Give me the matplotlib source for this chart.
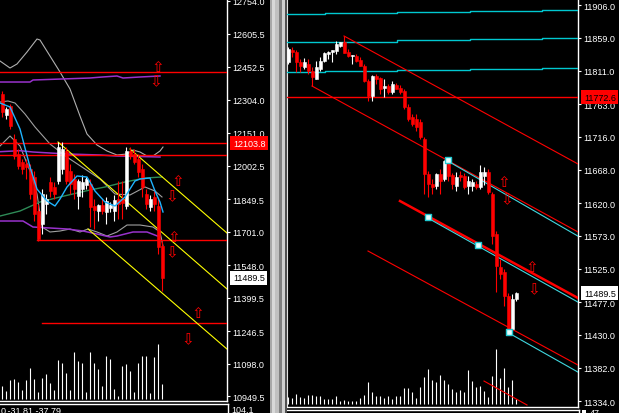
import numpy as np
import matplotlib
matplotlib.use('Agg')
import matplotlib.pyplot as plt
from matplotlib.patches import Rectangle
from matplotlib.transforms import blended_transform_factory, offset_copy

# ── Left pane: 41 bars ───────────────────────────────────────────
left_open = [12329.1, 12233.2, 12274.3, 12123.6, 12055.1, 12018.5, 12009.4, 11986.5, 11950.0, 11794.7,
             11735.3, 11826.7, 11927.1, 11904.3, 11931.7, 11986.5, 12068.8, 11977.4, 11940.9, 11863.2,
             11895.2, 11913.4, 11918.0, 11817.6, 11794.7, 11822.1, 11790.2, 11808.4, 11794.7, 11849.5,
             11849.5, 11817.6, 12068.8, 12055.1, 12031.2, 11986.5, 11872.3, 11813.0, 11858.7, 11817.6,
             11634.8]
left_high = [12342.8, 12269.8, 12283.5, 12146.4, 12077.9, 12031.2, 12031.2, 12009.4, 11977.4, 11826.7,
             11895.2, 11872.3, 11950.0, 11927.1, 12109.9, 12109.9, 12087.0, 12009.4, 11963.7, 11940.9,
             11959.1, 11950.0, 11940.9, 11849.5, 11826.7, 11849.5, 11858.7, 11835.8, 11867.8, 11931.7,
             11931.7, 12087.0, 12087.0, 12077.9, 12055.1, 12009.4, 11895.2, 11867.8, 11886.0, 11849.5,
             11657.7]
left_low = [12224.1, 12215.0, 12169.3, 12031.2, 11986.5, 11963.7, 11940.9, 11849.5, 11749.0, 11657.7,
            11689.6, 11781.0, 11858.7, 11849.5, 11918.0, 11963.7, 11918.0, 11872.3, 11849.5, 11803.9,
            11858.7, 11895.2, 11721.6, 11712.5, 11749.0, 11781.0, 11735.3, 11790.2, 11749.0, 11758.1,
            11758.1, 11803.9, 12031.2, 12009.4, 11950.0, 11858.7, 11803.9, 11794.7, 11794.7, 11598.4,
            11429.2]
left_close = [12246.9, 12260.6, 12183.0, 12046.0, 12000.2, 11986.5, 11995.7, 11872.3, 11781.0, 11666.8,
              11872.3, 11849.5, 11886.0, 11872.3, 12087.0, 12077.9, 11931.7, 11918.0, 11895.2, 11931.7,
              11927.1, 11940.9, 11813.0, 11799.3, 11822.1, 11794.7, 11840.4, 11822.1, 11845.0, 11826.7,
              11831.2, 12068.8, 12046.0, 12018.5, 11972.8, 11904.3, 11826.7, 11849.5, 11826.7, 11630.2,
              11489.5]
left_volume = [133, 83, 190, 200, 173, 90, 190, 310, 200, 73, 210, 250, 160, 93, 390, 357, 260, 93,
               467, 377, 357, 67, 467, 360, 300, 133, 433, 400, 100, 33, 333, 350, 277, 67, 360, 433,
               433, 57, 423, 550, 150]

# indicator curves, sampled at bar positions (bar index, price)
gray_env_x = [-0.5, 2, 3.75, 6.25, 8.75, 9.5, 12, 14.5, 17, 19.5, 21.25, 23.75, 26.25, 28.75,
              31.25, 32.75, 34.5, 36.25, 37.75, 39.5, 40.25]
gray_env_y = [12479.9, 12447.9, 12466.2, 12521.0, 12580.4, 12575.8, 12502.7, 12429.6, 12352.0,
              12228.6, 12146.4, 12096.2, 12068.8, 12050.5, 12055.1, 12073.3, 12064.2, 12046.0,
              12046.0, 12068.8, 12087.0]
gray_up_x = [-0.5, 1.5, 3.25, 5.75, 8.25, 12, 16.25, 20.75, 24.5, 28.25, 32, 35.75, 38.25, 40]
gray_up_y = [12292.6, 12297.2, 12288.0, 12237.8, 12178.4, 12100.7, 12040.8, 11986.5, 11940.9,
             11872.3, 11867.8, 11904.3, 11886.0, 11858.7]
gray_lo_x = [-0.5, 2, 4.5, 7, 8.75, 10, 12, 14.5, 17, 19.5, 21.5, 23.75, 26.25, 28.75, 31.25,
             34.5, 37.75, 39.5, 40.25]
gray_lo_y = [12091.6, 12137.3, 12091.6, 11977.4, 11872.3, 11721.6, 11698.8, 11703.3, 11712.5,
             11698.8, 11712.5, 11698.8, 11680.5, 11698.8, 11730.7, 11730.7, 11721.6, 11698.8, 11634.8]
fast_ma_x = [-0.5, 2, 4.5, 7, 8.75, 11.25, 13.25, 14.5, 16.25, 18.75, 21.25, 23.25, 25.75, 28.25,
             30.75, 33.25, 34.5, 37, 38.25, 39.5, 40.25]
fast_ma_y = [12288.0, 12269.8, 12169.3, 11995.7, 11894.7, 11840.4, 11817.6, 11849.5, 11904.3,
             11954.6, 11950.0, 11886.0, 11835.8, 11817.6, 11858.7, 11931.7, 11940.9, 11945.4,
             11886.0, 11835.8, 11790.2]
slow_ma_x = [-0.5, 4.5, 9.5, 14.5, 22, 25.75, 30.75, 35.75, 40]
slow_ma_y = [11771.8, 11794.7, 11835.8, 11858.7, 11890.6, 11904.3, 11927.1, 11945.4, 11950.0]
purple_hi_x = [-0.5, 7, 7.75, 22, 24.5, 28.75, 30.25, 34.5, 39.5]
purple_hi_y = [12383.9, 12383.9, 12393.1, 12402.2, 12406.0, 12411.4, 12402.2, 12406.8, 12411.4]
purple_mid_x = [-0.5, 4.5, 7.75, 16.25, 24.5, 28.75, 39.5]
purple_mid_y = [12065.6, 12070.2, 12064.2, 12055.1, 12050.5, 12046.0, 12041.4]
purple_lo_x = [-0.5, 5.25, 7.75, 16.25, 20.25, 23.75, 27, 28.75, 32.75, 36.25, 39.5]
purple_lo_y = [11749.0, 11749.0, 11721.6, 11712.5, 11703.3, 11689.6, 11675.9, 11680.5, 11698.8,
               11698.8, 11675.9]

# horizontal levels (start bar, price)
left_levels = [(-0.5, 12430.0), (-0.5, 12103.8), (-0.5, 12050.5), (8.75, 11664.5), (10, 11282.0)]
# yellow channel lines (start bar, start price, end bar, end price)
left_channel = [(14, 12109.9, 56.25, 11438.4), (32, 12077.9, 56.25, 11694.0),
                (21.5, 11712.5, 56.25, 11164.0)]
left_arrows_up = [(39, 12455.0), (44, 11936.3), (43, 11678.0), (49, 11333.3)]
left_arrows_dn = [(38.5, 12390.0), (42.5, 11863.2), (42.5, 11609.0), (46.5, 11210.0)]
left_ticks = [12754.0, 12605.5, 12452.5, 12304.0, 12151.0, 12002.5, 11849.5, 11701.0, 11548.0,
              11399.5, 11246.5, 11098.0, 10949.5]

# ── Right pane: 58 bars ──────────────────────────────────────────
right_open = [11823.7, 11841.0, 11838.1, 11823.7, 11816.5, 11820.8, 11810.7, 11799.1, 11813.6, 11825.1,
              11835.3, 11838.1, 11839.6, 11846.8, 11852.6, 11838.1, 11832.4, 11832.4, 11826.6, 11817.9,
              11796.3, 11774.6, 11803.5, 11800.6, 11786.1, 11789.0, 11780.4, 11790.5, 11786.1, 11781.8,
              11758.7, 11744.3, 11741.4, 11737.0, 11712.5, 11661.9, 11647.5, 11644.6, 11661.9, 11654.7,
              11680.7, 11660.5, 11644.6, 11660.5, 11659.0, 11644.6, 11644.6, 11647.5, 11643.2, 11659.0,
              11664.8, 11633.0, 11575.3, 11527.6, 11520.4, 11485.7, 11438.0, 11481.4]
right_high = [11845.4, 11845.4, 11841.0, 11828.0, 11829.5, 11828.0, 11816.5, 11825.1, 11830.9, 11838.1,
              11839.6, 11841.0, 11854.0, 11852.6, 11861.3, 11842.5, 11833.8, 11835.3, 11830.9, 11820.8,
              11799.1, 11805.0, 11806.4, 11802.0, 11799.1, 11791.9, 11796.3, 11793.4, 11790.5, 11784.7,
              11763.0, 11748.6, 11748.6, 11741.4, 11715.4, 11666.2, 11654.7, 11663.4, 11669.1, 11682.1,
              11682.1, 11663.4, 11664.8, 11666.2, 11663.4, 11659.0, 11654.7, 11651.8, 11674.9, 11672.0,
              11669.1, 11635.9, 11579.6, 11539.2, 11524.7, 11490.0, 11488.6, 11491.5]
right_low = [11820.8, 11830.9, 11809.3, 11809.3, 11813.6, 11806.4, 11789.0, 11799.1, 11810.7, 11823.7,
             11828.0, 11823.7, 11835.3, 11845.4, 11836.7, 11830.9, 11820.8, 11823.7, 11817.9, 11794.8,
             11767.4, 11767.4, 11791.9, 11777.5, 11773.1, 11777.5, 11777.5, 11784.7, 11777.5, 11755.8,
             11738.5, 11731.3, 11724.0, 11712.5, 11633.0, 11628.7, 11633.0, 11640.3, 11633.0, 11651.8,
             11651.8, 11640.3, 11637.4, 11651.8, 11640.3, 11633.0, 11637.4, 11640.3, 11640.3, 11646.0,
             11633.0, 11560.8, 11491.5, 11510.3, 11471.3, 11435.2, 11435.2, 11478.5]
right_close = [11842.5, 11838.1, 11823.7, 11817.9, 11823.7, 11810.7, 11802.0, 11816.5, 11825.1, 11836.7,
               11838.1, 11841.0, 11849.7, 11852.6, 11836.7, 11832.4, 11833.8, 11825.1, 11817.9, 11796.3,
               11774.6, 11803.5, 11799.1, 11784.7, 11789.0, 11780.4, 11791.9, 11784.7, 11780.4, 11758.7,
               11741.4, 11734.2, 11729.8, 11715.4, 11661.9, 11647.5, 11643.2, 11661.9, 11651.8, 11680.7,
               11659.0, 11647.5, 11657.6, 11657.6, 11643.2, 11651.8, 11650.4, 11643.2, 11664.8, 11664.8,
               11635.9, 11572.4, 11529.0, 11517.5, 11485.7, 11438.0, 11481.4, 11489.5]
right_volume = [67, 60, 100, 67, 60, 93, 93, 83, 83, 50, 50, 50, 83, 27, 40, 33, 27, 33, 60, 93,
                223, 123, 83, 83, 60, 83, 50, 83, 83, 160, 160, 117, 57, 173, 267, 350, 240, 223, 293,
                240, 200, 150, 123, 140, 123, 340, 233, 167, 183, 133, 73, 283, 550, 260, 360, 167,
                240, 50]

# stepped pivot-style levels
step_x = [-0.25, 9.25, 27.25, 45.5, 63.5, 72.5]
pivot_r2 = [11893.5, 11894.5, 11896.4, 11897.8, 11899.2]
pivot_r1 = [11852.2, 11853.0, 11855.0, 11856.5, 11857.9]
pivot_p = [11809.3, 11810.3, 11811.7, 11813.2, 11814.6]
right_level = 11772.6
# red regression-channel lines (start bar, start price, end bar, end price, thick?)
right_channel = [(14, 11861.3, 72.5, 11676.4, False), (6, 11789.0, 72.5, 11578.2, False),
                 (28, 11622.9, 72.5, 11482.8, True), (20, 11550.7, 72.5, 11386.0, False),
                 (49, 11362.9, 59.75, 11328.3, False)]
# cyan trend lines anchored on swing points
right_trend = [(40, 11682.1, 72.5, 11573.8), (35, 11599.8, 72.5, 11478.5),
               (55.25, 11433.7, 72.5, 11377.4)]
anchor_x = [40, 35, 47.5, 55.25]
anchor_y = [11682.1, 11599.8, 11559.4, 11433.7]
right_arrows_up = [(54, 11651.5), (61, 11528.5)]
right_arrows_dn = [(54.75, 11626.0), (61.5, 11496.0)]
right_ticks = [11906.0, 11859.0, 11811.0, 11763.0, 11716.0, 11668.0, 11620.0, 11573.0, 11525.0,
               11477.0, 11430.0, 11382.0, 11334.0]

FW, FH = 619, 414
LABEL_FONT = 'Liberation Sans'
FS = 6.5


def px_rect(x0, y0, x1, y1):
    # pixel box (origin top-left) -> figure fraction rect
    return [x0 / FW, 1 - y1 / FH, (x1 - x0) / FW, (y1 - y0) / FH]


def draw_candles(ax, o, h, l, c):
    o, h, l, c = map(np.asarray, (o, h, l, c))
    idx = np.arange(len(o))
    col = np.where(c >= o, 'white', '#ff0000')
    ax.vlines(idx, l, h, colors=col, lw=0.8, zorder=5)
    ax.bar(idx, c - o, bottom=o, width=0.75, color=col, edgecolor=col, lw=0.4, zorder=6)


def make_pane(rect, xlim, ylim, volume, vol_lim, ticks):
    ax_v = fig.add_axes(rect)
    ax_v.set_xlim(xlim)
    ax_v.set_ylim(vol_lim)
    ax_v.vlines(np.arange(len(volume)), 0, volume, colors='white', lw=0.8)
    ax_v.axis('off')

    ax = fig.add_axes(rect)
    ax.set_facecolor('none')
    ax.set_xlim(xlim)
    ax.set_ylim(ylim)
    ax.set_xticks([])
    ax.yaxis.tick_right()
    ax.set_yticks(ticks)
    ax.set_yticklabels([f'{t:.1f}' for t in ticks], fontfamily=LABEL_FONT)
    ax.tick_params(axis='y', colors='white', length=2.5, width=0.8, pad=1.5, labelsize=FS)
    for side in ('top', 'left'):
        ax.spines[side].set_visible(False)
    for side in ('right', 'bottom'):
        ax.spines[side].set_color('white')
        ax.spines[side].set_linewidth(1.0)
    return ax


def price_tag(ax, price, text, fc, tc):
    trans = blended_transform_factory(ax.transAxes, ax.transData)
    trans = offset_copy(trans, fig=fig, x=4.2, y=0, units='points')
    ax.text(1.0, price, text, transform=trans, ha='left', va='center', color=tc,
            fontsize=FS, fontfamily=LABEL_FONT, clip_on=False, zorder=20,
            bbox=dict(boxstyle='square,pad=0.28', fc=fc, ec='none'))


def arrows(ax, ups, downs):
    for x, y in ups:
        ax.text(x, y, '\u21e7', color='#ff0000', fontsize=11, ha='center', va='center',
                family='DejaVu Sans', zorder=8)
    for x, y in downs:
        ax.text(x, y, '\u21e9', color='#ff0000', fontsize=11, ha='center', va='center',
                family='DejaVu Sans', zorder=8)


fig = plt.figure(figsize=(FW / 100, FH / 100), dpi=100, facecolor='black')

# ── left pane ────────────────────────────────────────────────────
axl = make_pane(px_rect(0, 0, 227, 402), (-0.5, 56.25), (10926.8, 12763.1),
                left_volume, (-20, 4000), left_ticks)
lw = 0.8
axl.plot(gray_env_x, gray_env_y, color='#b0b0b0', lw=lw, zorder=3)
axl.plot(gray_up_x, gray_up_y, color='#a0a0a0', lw=lw, zorder=3)
axl.plot(gray_lo_x, gray_lo_y, color='#a0a0a0', lw=lw, zorder=3)
axl.plot(purple_hi_x, purple_hi_y, color='#9932cc', lw=1.1, zorder=3)
axl.plot(purple_mid_x, purple_mid_y, color='#9932cc', lw=1.1, zorder=3)
axl.plot(purple_lo_x, purple_lo_y, color='#9932cc', lw=1.1, zorder=3)
axl.plot(slow_ma_x, slow_ma_y, color='#2e8b57', lw=1.0, zorder=3)
axl.plot(fast_ma_x, fast_ma_y, color='#1fb4ff', lw=1.0, zorder=7)
for x0, p in left_levels:
    axl.plot([x0, 56.25], [p, p], color='#ff0000', lw=1.0, zorder=4)
for x0, p0, x1, p1 in left_channel:
    axl.plot([x0, x1], [p0, p1], color='#ffff00', lw=0.8, zorder=4)
draw_candles(axl, left_open, left_high, left_low, left_close)
arrows(axl, left_arrows_up, left_arrows_dn)
price_tag(axl, 12103.8, '12103.8', '#ff0000', 'white')
price_tag(axl, left_close[-1], f'{left_close[-1]:.1f}', 'white', 'black')

# ── right pane ───────────────────────────────────────────────────
axr = make_pane(px_rect(287, 0, 578, 408), (-0.25, 72.5), (11325.4, 11914.7),
                right_volume, (-30, 4050), right_ticks)
axr.spines['left'].set_visible(True)
axr.spines['left'].set_color('#e0e0e0')
for lvl in (pivot_r2, pivot_r1, pivot_p):
    axr.step(step_x, lvl + [lvl[-1]], where='post', color='#00c8d0', lw=1.0, zorder=3)
axr.axhline(right_level, color='#ff0000', lw=1.0, zorder=3)
for x0, p0, x1, p1, thick in right_channel:
    axr.plot([x0, x1], [p0, p1], color='#ff0000', lw=1.8 if thick else 0.8, zorder=4)
for x0, p0, x1, p1 in right_trend:
    axr.plot([x0, x1], [p0 - 1.6, p1 - 1.6], color='#40d8e0', lw=0.8, zorder=4)
draw_candles(axr, right_open, right_high, right_low, right_close)
axr.scatter(anchor_x, anchor_y, marker='s', s=14, facecolor='#e8ffff', edgecolor='#20c8d0',
            lw=1.0, zorder=9)
arrows(axr, right_arrows_up, right_arrows_dn)
price_tag(axr, right_level, f'{right_level:.1f}', '#ff0000', 'black')
price_tag(axr, right_close[-1], f'{right_close[-1]:.1f}', 'white', 'black')

# ── splitter between the two chart windows ──────────────────────
for x0, x1, col in [(270, 272, '#a8a8a8'), (272, 275, '#d8d8d8'), (275, 279, '#c0c0c0'),
                    (279, 282, '#808080'), (282, 285, '#d0d0d0'), (285, 287, '#505050')]:
    fig.add_artist(Rectangle((x0 / FW, 0), (x1 - x0) / FW, 1, transform=fig.transFigure,
                             fc=col, ec='none'))

# ── indicator sub-windows peeking in at the bottom ──────────────
subl = fig.add_axes(px_rect(0, 405, 228, 420))
subr = fig.add_axes(px_rect(287, 411, 579, 420))
for sub in (subl, subr):
    sub.set_facecolor('black')
    sub.set_xticks([])
    sub.set_yticks([])
    for side in ('left', 'bottom'):
        sub.spines[side].set_visible(False)
    for side in ('top', 'right'):
        sub.spines[side].set_color('white')
        sub.spines[side].set_linewidth(1.0)
fig.text(1 / FW, 1 - 407 / FH, '0,-31.81,-37.79', color='white', fontsize=FS,
         fontfamily=LABEL_FONT, va='top', ha='left')
fig.text(231 / FW, 1 - 406 / FH, '104.1', color='white', fontsize=FS,
         fontfamily=LABEL_FONT, va='top', ha='left')
fig.add_artist(Rectangle((582 / FW, 0), 4 / FW, 3 / FH, transform=fig.transFigure,
                         fc='white', ec='none'))
fig.text(590 / FW, 1 - 409 / FH, '47', color='white', fontsize=FS,
         fontfamily=LABEL_FONT, va='top', ha='left')

fig.savefig('out.png', dpi=100, facecolor='black')
